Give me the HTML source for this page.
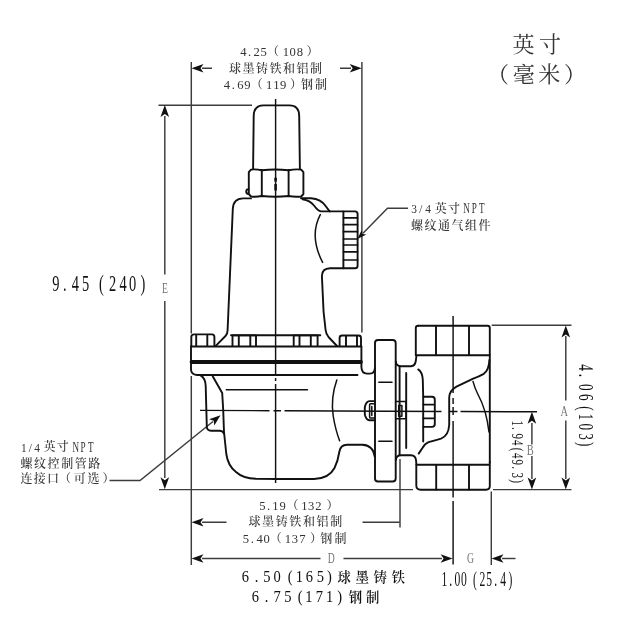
<!DOCTYPE html>
<html lang="zh">
<head>
<meta charset="utf-8">
<title>尺寸图</title>
<style>
html,body{margin:0;padding:0;background:#fff;}
body{width:626px;height:626px;overflow:hidden;}
svg{display:block;will-change:transform;}
text{font-family:"Liberation Serif","Noto Serif CJK SC",serif;}
.o{fill:none;stroke:#111;stroke-width:1.9;stroke-linecap:round;stroke-linejoin:round;}
.m{fill:none;stroke:#111;stroke-width:1.5;stroke-linecap:round;stroke-linejoin:round;}
.c{fill:none;stroke:#111;stroke-width:1.45;}
.d{fill:none;stroke:#3c3c3c;stroke-width:1.45;}
.a{fill:#111;stroke:none;}
.b{fill:#111;}
</style>
</head>
<body>
<svg width="626" height="626" viewBox="0 0 626 626">
<rect width="626" height="626" fill="#fff"/>

<!-- ===== extension / dimension lines ===== -->
<g class="d">
  <path d="M191.3,62V333.5M191.3,376V565"/>
  <path d="M361.9,62V332.5"/>
  <path d="M202,68.3H212M340,68.3H351"/>
  <path d="M158.5,105.2H252"/>
  <path d="M164.8,116V274.5M164.8,301V478"/>
  <path d="M159,489.6H413"/>
  <path d="M400,459V527.6"/>
  <path d="M202,522.2H226.5M362.5,522.2H399.8"/>
  <path d="M202,558.5H320.5M343.5,558.5H442"/>
  <path d="M491.3,491.5V565"/>
  <path d="M502,558.5H515.5"/>
  <path d="M491.7,325.2H571.5M493,489.6H571.5"/>
  <path d="M565.8,336V400.5M565.8,420.5V479"/>
  <path d="M531.9,423V444.5M531.9,456V479"/>
  <path d="M109.5,480.5H140L213,421.5"/>
  <path d="M408,208.3H387.5L363,233.3"/>
</g>
<!-- arrowheads -->
<g class="a">
  <path d="M191.5,68.3l12,-4.3l-3,4.3l3,4.3z"/>
  <path d="M361.7,68.3l-12,-4.3l3,4.3l-3,4.3z"/>
  <path d="M164.8,105l-4.3,12l4.3,-3l4.3,3z"/>
  <path d="M164.8,489.3l-4.3,-12l4.3,3l4.3,-3z"/>
  <path d="M191.5,522.2l12,-4.3l-3,4.3l3,4.3z"/>
  <path d="M191.5,558.5l12,-4.3l-3,4.3l3,4.3z"/>
  <path d="M452.6,558.5l-12,-4.3l3,4.3l-3,4.3z"/>
  <path d="M491.5,558.5l12,-4.3l-3,4.3l3,4.3z"/>
  <path d="M565.8,325.4l-4.3,12l4.3,-3l4.3,3z"/>
  <path d="M565.8,489.4l-4.3,-12l4.3,3l4.3,-3z"/>
  <path d="M531.9,411.8l-4.3,12l4.3,-3l4.3,3z"/>
  <path d="M531.9,489.4l-4.3,-12l4.3,3l4.3,-3z"/>
  <path d="M220.5,415.3l-6.2,10.3l-0.6,-4.8l-4.6,-1.6z"/>
  <path d="M357.4,239L361.7,229.9L362.3,234L366.4,234.5Z"/>
</g>

<!-- ===== centre lines ===== -->
<g class="c">
  <path d="M275.6,99V374.7M275.6,378V381M275.6,384V483"/>
  <path d="M272,479H279.5"/>
  <path transform="rotate(0.25 368.5 411.1)" d="M200,411.1H269.5M273.5,411.1H281M284.5,411.1H441.5M449,411.1H457.5M460.5,411.1H537"/>
  <path d="M453.1,316V393M453.1,398V404M453.1,407V415M453.1,421V497.5M453.1,501V564.5"/>
</g>
<path d="M275.6,177.8V181.6M275.6,184V190.4" fill="none" stroke="#111" stroke-width="2.6"/>

<!-- ===== regulator body ===== -->
<g class="o">
  <!-- cap -->
  <path d="M253.1,169L253.7,116Q253.8,105.4 263.5,105.4H289.5Q299.1,105.4 299.2,116L299.9,169"/>
  <!-- hex nut -->
  <path d="M251,169.6Q256,169 261.8,170.2Q275,168.8 288.6,170.2Q295,169 301.2,169.6L303.4,172.2V194L301.2,196.5Q295,197.2 288.6,196Q275,197.4 261.8,196Q256,197.2 251,196.5L248.8,194V172.2Z"/>
  <path d="M261.8,170V196M288.6,170V196"/>
  <path d="M248.6,189.2A2.4,2.4 0 0 0 248.6,194"/>
  <!-- upper spring case -->
  <path d="M251,198.4H243Q233.3,198.6 232.8,209L227.6,330Q227.6,334 225.5,336L216,345.6"/>
  <path d="M301,198.2H311Q321,198.6 326,206.5L329.6,211.4H343"/>
  <path d="M302.6,199.2Q310,200.5 314,205.5Q318,211 321,211.4H330"/>
  <path d="M343.4,268.2H330Q322,268.4 321.9,276L323.6,312L325.6,330Q326,334 328.5,337L337,346"/>
  <path d="M320.3,214.6Q309,236 322.6,262.4" class="m"/>
  <!-- vent -->
  <path d="M343.4,211.4H355Q357.6,211.4 357.6,214V265.7Q357.6,268.3 355,268.3H343.4Z"/>
  <path d="M343.4,217.9H357.5M343.4,224.7H357.5M343.4,231.7H357.5M343.4,239.0H357.5M343.4,245.0H357.5M343.4,251.8H357.5M343.4,260.0H357.5" stroke-width="1.7"/>
  <!-- bolts on diaphragm flange -->
  <path d="M191.3,346V337Q191.3,334.4 194,334.4H212Q214.4,334.4 214.4,337V346M196.2,335V346M207.3,335V346"/>
  <path d="M232.5,346V335.4H256V346M238.8,335.4V346M250.3,335.4V346"/>
  <path d="M293.7,346V335.4H317.6V346M299.5,335.4V346M310.8,335.4V346"/>
  <path d="M231,335.3H320.3"/>
  <path d="M339.6,346V338Q339.6,335.5 342,335.5H358.5Q361,335.5 361,338V346M346,336V346M357,336V346"/>
  <!-- diaphragm flange -->
  <path d="M191,346.5H361.3"/>
  <path d="M191,346.5V369.5Q191.2,374.6 197,375H357.5"/>
  <path d="M361.4,346.5V367Q361.6,373.6 367,373.6H370Q374.6,373.6 374.9,368"/>
  <path d="M191.5,362H361" stroke-width="3.8"/>
  <!-- lower case -->
  <path d="M200.5,375.4Q205.4,378 205.7,386L206.8,426.5Q207,430.7 211,430.7H219.5Q223,430.8 223.8,433.5"/>
  <path d="M212.7,376.2L222.2,393L223.2,410L224,432L226.3,454Q228,466 236,472Q243,478.4 256,478.8L280,479H314Q329,478.5 334.5,468Q338,461 339.4,451.5Q340.5,445 347,444.8H362.5Q373.5,445.5 374.8,457"/>
  <path d="M226.3,389.7H307.5" class="m"/>
  <path d="M336.8,380Q330.5,398 333.2,416Q335.5,430 339.6,440.7" class="m"/>
</g>

<!-- ===== mounting flange & valve ===== -->
<g class="o">
  <path d="M378,340H392.6Q395.7,340 395.7,343V478.5Q395.7,481.5 392.6,481.5H378Q375,481.5 375,478.5V343Q375,340 378,340Z"/>
  <path d="M378.8,382.3H392M378.8,441.3H392" class="m"/>
  <!-- small nut left -->
  <path d="M375,401.1H369.2Q367.4,401.3 366.3,403.2L365.2,405.6Q364.8,406.6 364.8,408V413.4Q364.8,414.8 365.2,415.8L366.3,418.2Q367.4,420 369.2,420.2H375"/>
  <path d="M374.6,403.7H370.6Q369.6,403.7 369.6,404.8V416.9Q369.6,418 370.6,418H374.6M371.8,406.4V415.6" class="m"/>
  <!-- washer -->
  <path d="M395.8,401.5H406V418.8H395.8M398.7,405.4H401.9V416.2H398.7Z" class="m"/>
  <!-- valve inlet face -->
  <path d="M395.8,361.5Q396.2,366.2 401,366.2H411Q415,366 415.8,361L416.4,356"/>
  <path d="M395.8,460Q396.2,455.2 401,455.2H411Q415.4,455.4 416,460L416.4,464.5"/>
  <path d="M399.6,366.5V455"/>
  <path d="M406.2,373V448"/>
  <!-- top block -->
  <path d="M418.2,325.7H487.4Q489.8,325.7 489.8,328V462.5"/>
  <path d="M418.2,325.7Q415.8,325.7 415.8,328V355.3H489.6"/>
  <path d="M436,326V355M469,326V355"/>
  <!-- bottom block -->
  <path d="M416.3,464.8H489.6M416.3,464.8V485.5Q416.4,489.7 420.5,489.7H486Q489.8,489.7 489.8,486V462"/>
  <path d="M436.2,465V489.5M469,465V489.5"/>
  <!-- inner curves -->
  <path d="M418.2,369.4Q422.4,372 422.8,380L423.2,396.7V441.5"/>
  <path d="M423.2,396.7H432Q434.8,396.9 434.8,399.5V424Q434.8,426.8 432,426.9H423.2M423.2,404.6H434.6M423.2,418.4H434.6"/>
  <path d="M489.4,360Q489,370 483.8,373.8Q479,376.4 473.2,378.7L456.5,386.6Q449.4,390.5 449.2,397.5V425Q448.5,436 441,438.6Q432,441 428,442.4Q424.6,444 422.6,447.8L418.7,453.6"/>
  <path d="M473,381.4Q474.8,388.5 478,394.5Q486.5,410 489,432" class="m"/>
</g>

<!-- ===== text ===== -->
<!-- TEXT-BEGIN -->
<g fill="#333" text-anchor="middle" font-weight="500">
  <text font-size="12.6px" x="243.3 249.7 256.7 263.6 273.0 285.8 292.6 299.8 312.6" y="56.3">4.25<tspan font-size="12px">（</tspan>108<tspan font-size="12px">）</tspan></text>
  <text font-size="12px" x="234.9 248.4 261.9 275.4 288.9 302.4 315.9" y="72.7">球墨铸铁和铝制</text>
  <text font-size="12.6px" x="226.9 233.4 240.3 247.3 256.8 269.2 276.3 283.1 296.0 307.0 321.0" y="88.9">4.69<tspan font-size="12px">（</tspan>119<tspan font-size="12px">）钢制</tspan></text>
  <text font-size="12.6px" x="262.4 268.7 275.4 282.7 292.4 304.4 311.1 318.5 332.5" y="510.2">5.19<tspan font-size="12px">（</tspan>132<tspan font-size="12px">）</tspan></text>
  <text font-size="12px" x="254.4 268.0 281.7 295.3 308.9 322.6 336.2" y="526.3">球墨铸铁和铝制</text>
  <text font-size="12.6px" x="246.0 252.4 259.6 266.6 275.7 288.0 295.0 302.4 315.9 326.2 340.5" y="542.9">5.40<tspan font-size="12px">（</tspan>137<tspan font-size="12px">）钢制</tspan></text>
  <text transform="translate(0,451.6) scale(0.92,1.06)" font-size="12.4px" x="25.9 32.9 40.3" y="0">1/4</text>
  <text font-size="12px" x="49.4 62.7" y="451.4">英寸</text>
  <text transform="translate(0,451.7) scale(0.68,1.06)" font-size="13.4px" x="111.3 122.1 133.5" y="0">NPT</text>
  <text font-size="12px" x="26.6 40.1 53.6 67.2 80.7 94.2" y="467.7">螺纹控制管路</text>
  <text font-size="12px" x="26.6 39.7 53.1 65.1 79.7 93.4 108.6" y="483.2">连接口（可选）</text>
  <text transform="translate(0,212.8) scale(0.92,1.06)" font-size="12.4px" x="450.0 457.5 465.4" y="0">3/4</text>
  <text font-size="12px" x="440.8 454.0" y="212.7">英寸</text>
  <text transform="translate(0,212.9) scale(0.68,1.06)" font-size="13.4px" x="686.2 697.5 708.5" y="0">NPT</text>
  <text font-size="12px" x="417.0 430.5 444.0 457.6 471.1 484.6" y="229.6">螺纹通气组件</text>
</g>
<g fill="#333" font-size="22px">
  <text x="512.5" y="52" textLength="48.5" lengthAdjust="spacing">英寸</text>
  <text x="487" y="82" textLength="99" lengthAdjust="spacing">（毫米）</text>
</g>
<g fill="#777" font-size="13px" text-anchor="middle">
  <text transform="translate(164.9,293.2) scale(0.75,1.08)">E</text>
  <text transform="translate(564.2,415.8) scale(0.8,1.1)">A</text>
  <text transform="translate(530.2,454.6) scale(0.8,1.05)">B</text>
  <text transform="translate(331.2,562.7) scale(0.75,1.05)">D</text>
  <text transform="translate(470.5,563) scale(0.75,1.05)">G</text>
</g>
<!-- tall condensed numerals -->
<g class="b" text-anchor="middle">
  <text transform="translate(0,290.6) scale(1,1.65)" font-size="14.4px" x="55.8 64.8 75.3 85.5 101.3 112.7 123.1 132.5 143.0" y="0">9.45(240)</text>
  <text transform="translate(0,581.6) scale(1,1.1)" font-size="14.5px" x="245.4 256.6 266.9 277.1 290.1 299.3 309.5 320.3 329.5" y="0">6.50(165)</text>
  <text font-size="13.4px" x="344.3 362.2 380.2 398.2" y="581.7" font-weight="600">球墨铸铁</text>
  <text transform="translate(0,602.3) scale(1,1.1)" font-size="14.5px" x="255.4 266.6 277.1 287.8 300.1 309.0 319.5 329.7 339.7" y="0">6.75(171)</text>
  <text font-size="13.4px" x="355.5 372.7" y="602.2" font-weight="600">钢制</text>
  <text transform="translate(0,586.2) scale(1,1.8)" font-size="11.6px" x="444.4 450.8 457.3 464.0 474.9 482.3 489.2 495.7 503.1 510.5" y="0">1.00(25.4)</text>
  <text transform="translate(578.8,0) rotate(90) scale(1,1.65)" font-size="13.2px" x="367.5 375.5 387.3 397.2 408.5 416.9 426.7 436.6 444.2" y="0">4.06(103)</text>
  <text transform="translate(511.8,0) rotate(90) scale(1,1.6)" font-size="11px" x="423.3 428.3 436.3 442.8 449.5 455.8 462.3 467.6 475.3 481.2" y="0">1.94(49.3)</text>
</g>
<!-- TEXT-END -->
</svg>
</body>
</html>
